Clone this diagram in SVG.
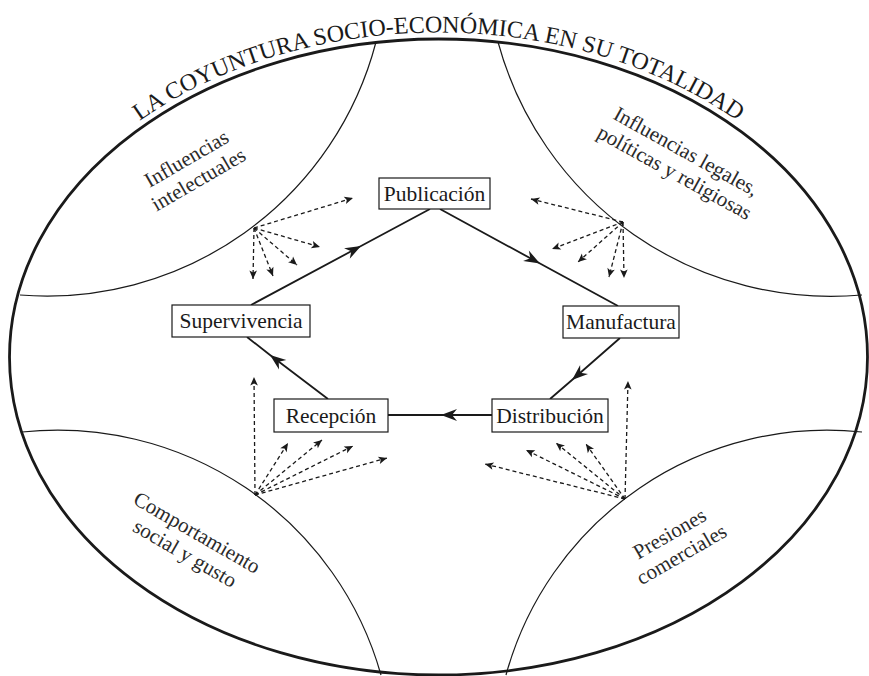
<svg xmlns="http://www.w3.org/2000/svg" width="869" height="676" viewBox="0 0 869 676">
<style>
.frame{fill:none;stroke:#1a1a1a;stroke-width:2.8}
.lens{fill:none;stroke:#1a1a1a;stroke-width:1.2}
.box{fill:#fff;stroke:#1a1a1a;stroke-width:1.2}
.lbl{font-family:"Liberation Serif","Times New Roman",serif;font-size:21.5px;fill:#1a1a1a;text-anchor:middle}
.zone{font-family:"Liberation Serif","Times New Roman",serif;font-size:21px;fill:#2a2a2a;text-anchor:middle}
.title{font-family:"Liberation Serif","Times New Roman",serif;font-size:24px;fill:#1a1a1a;text-anchor:middle}
.flow{fill:none;stroke:#1a1a1a;stroke-width:1.8;marker-mid:url(#big)}
.infl{fill:none;stroke:#1a1a1a;stroke-width:1.3;stroke-dasharray:4 3;marker-end:url(#small)}
</style>
<defs>
<marker id="big" markerUnits="userSpaceOnUse" markerWidth="20" markerHeight="14" viewBox="-17 -7 20 14" refX="0" refY="0" orient="auto">
<path d="M0,0 L-16,-6 L-11,0 L-16,6 Z" fill="#1a1a1a"/>
</marker>
<marker id="small" markerUnits="userSpaceOnUse" markerWidth="12" markerHeight="10" viewBox="-10 -5 12 10" refX="0" refY="0" orient="auto">
<path d="M0,0 L-8.5,-3.8 L-6.5,0 L-8.5,3.8 Z" fill="#1a1a1a"/>
</marker>
<path id="titlePath" d="M 3,357 A 435.5 324.5 0 0 1 874,357"/>
</defs>

<g id="frame">
<ellipse class="frame" cx="438.5" cy="357" rx="429" ry="318"/>
<text class="title"><textPath href="#titlePath" startOffset="50%">LA COYUNTURA SOCIO-ECONÓMICA EN SU TOTALIDAD</textPath></text>
</g>

<g id="zone-intelectuales">
<path class="lens" d="M20,295 A340,340 0 0 0 376,42"/>
<text class="zone" transform="translate(196,175) rotate(-30)"><tspan x="0" y="-12">Influencias</tspan><tspan x="0" y="12">intelectuales</tspan></text>
</g>
<g id="zone-legales">
<path class="lens" d="M498,42 A345,345 0 0 0 862,295"/>
<text class="zone" transform="translate(677,168) rotate(29)"><tspan x="0" y="-12">Influencias legales,</tspan><tspan x="0" y="12">políticas y religiosas</tspan></text>
</g>
<g id="zone-comportamiento">
<path class="lens" d="M22,432 A336,336 0 0 1 381,675"/>
<text class="zone" transform="translate(187.5,549) rotate(30)"><tspan x="0" y="-12">Comportamiento</tspan><tspan x="0" y="12">social y gusto</tspan></text>
</g>
<g id="zone-comerciales">
<path class="lens" d="M862,432 A333,333 0 0 0 506,675"/>
<text class="zone" transform="translate(679,550) rotate(-30)"><tspan x="0" y="-12">Presiones</tspan><tspan x="0" y="12">comerciales</tspan></text>
</g>

<g id="connectors">
<polyline class="flow" points="251,305 361,246 430,209"/>
<polyline class="flow" points="440,209 540,263.5 618,306"/>
<polyline class="flow" points="620,338 572,380 550,399"/>
<polyline class="flow" points="492,415 441,415 388,415"/>
<polyline class="flow" points="328,399 270,355 247,337"/>

<line class="infl" x1="254" y1="228" x2="353" y2="198"/>
<line class="infl" x1="254" y1="228" x2="320" y2="247"/>
<line class="infl" x1="254" y1="228" x2="297" y2="265"/>
<line class="infl" x1="254" y1="228" x2="273" y2="276"/>
<line class="infl" x1="254" y1="228" x2="253" y2="279"/>

<line class="infl" x1="623" y1="222" x2="531" y2="199"/>
<line class="infl" x1="623" y1="222" x2="552" y2="249"/>
<line class="infl" x1="623" y1="222" x2="578" y2="262"/>
<line class="infl" x1="623" y1="222" x2="609" y2="277"/>
<line class="infl" x1="623" y1="222" x2="624" y2="278"/>

<line class="infl" x1="255" y1="495" x2="254" y2="377"/>
<line class="infl" x1="255" y1="495" x2="288" y2="443"/>
<line class="infl" x1="255" y1="495" x2="322" y2="440"/>
<line class="infl" x1="255" y1="495" x2="353" y2="446"/>
<line class="infl" x1="255" y1="495" x2="387" y2="458"/>

<line class="infl" x1="625" y1="499" x2="628" y2="381"/>
<line class="infl" x1="625" y1="499" x2="586" y2="444"/>
<line class="infl" x1="625" y1="499" x2="556" y2="443"/>
<line class="infl" x1="625" y1="499" x2="526" y2="450"/>
<line class="infl" x1="625" y1="499" x2="485" y2="464"/>
</g>

<g id="node-publicacion">
<rect class="box" x="379" y="178" width="111" height="31"/>
<text class="lbl" x="434.5" y="200.5">Publicación</text>
</g>
<g id="node-manufactura">
<rect class="box" x="563" y="306" width="116" height="32"/>
<text class="lbl" x="621" y="329">Manufactura</text>
</g>
<g id="node-distribucion">
<rect class="box" x="492" y="399" width="116" height="33"/>
<text class="lbl" x="550" y="422.5">Distribución</text>
</g>
<g id="node-recepcion">
<rect class="box" x="274" y="399" width="114" height="33"/>
<text class="lbl" x="331" y="422.5">Recepción</text>
</g>
<g id="node-supervivencia">
<rect class="box" x="172" y="305" width="138" height="32"/>
<text class="lbl" x="241" y="328">Supervivencia</text>
</g>
</svg>
